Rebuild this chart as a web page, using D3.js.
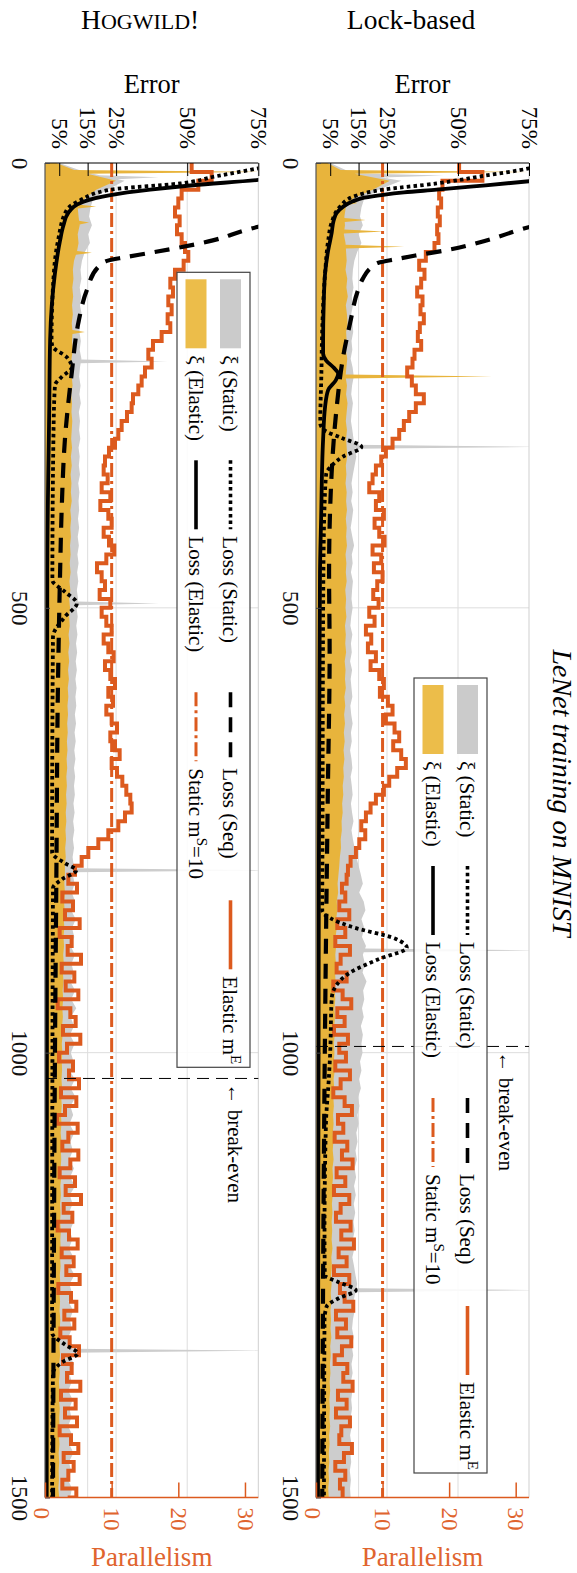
<!DOCTYPE html>
<html>
<head>
<meta charset="utf-8">
<script src="https://cdn.jsdelivr.net/npm/d3@7"></script>
<style>
  body { margin: 0; background: #fff; }
  svg { display: block; }
  svg text { font-family: "Liberation Serif", "Times New Roman", serif; }
</style>
</head>
<body>
<svg id="chart" width="577" height="1573" font-family="Liberation Serif, serif"></svg>
<script>
// ---------------------------------------------------------------
// LeNet training on MNIST: Lock-based vs HOGWILD! runs
// Iterations 0..1500 sampled every 10 iterations.
// ---------------------------------------------------------------
const iterations = d3.range(0, 1501, 10);

// Elastic parallelism m^E (Lock-based)
const lockElasticM = [
  21.5, 25.0, 19.0, 18.5, 18.8, 18.3, 18.6, 18.2, 18.4, 17.8,
  16.5, 15.5, 16.3, 15.8, 15.2, 16.0, 15.7, 16.2, 15.6, 15.3,
  15.8, 14.8, 14.5, 13.7, 14.4, 15.0, 16.2, 15.0, 14.0, 13.2,
  12.5, 11.5, 10.5, 9.8, 9.0, 8.5, 8.0, 9.5, 9.0, 10.2,
  8.8, 9.5, 10.3, 8.5, 9.8, 8.7, 10.0, 9.2, 8.6, 9.4,
  8.0, 8.8, 7.5, 8.3, 7.8, 9.0, 8.2, 9.5, 10.2, 9.6,
  10.8, 11.5, 10.5, 11.8, 12.5, 11.6, 12.8, 13.5, 12.2, 11.0,
  10.2, 9.0, 8.2, 7.5, 6.8, 7.4, 6.5, 6.0, 5.2, 4.8,
  4.6, 3.9, 4.4, 3.5, 5.0, 3.2, 4.4, 2.9, 5.1, 3.7,
  3.1, 4.6, 2.6, 4.0, 5.3, 3.2, 4.3, 2.7, 4.8, 3.5,
  4.5, 2.9, 5.1, 3.7, 2.6, 4.3, 5.4, 3.3, 4.1, 2.8,
  4.7, 3.9, 5.5, 3.1, 4.4, 2.7, 5.0, 3.7, 3.0, 5.2,
  3.8, 5.7, 3.4, 4.6, 2.7, 5.0, 3.6, 4.3, 5.6, 3.0,
  4.5, 3.2, 5.3, 3.9, 2.8, 4.7, 4.1, 5.5, 3.3, 4.6,
  3.0, 5.1, 3.8, 3.5, 5.4, 4.2, 2.9, 4.4, 3.6, 4.0,
  3.7
];

// Elastic parallelism m^E (HOGWILD!)
const hogElasticM = [
  22.0, 25.0, 23.0, 20.5, 20.0, 19.5, 20.2, 19.8, 20.5, 21.0,
  21.5, 20.8, 19.5, 18.8, 19.2, 18.5, 19.0, 18.4, 18.8, 17.5,
  16.2, 15.5, 16.0, 15.0, 14.5, 14.0, 13.2, 13.0, 12.3, 11.5,
  11.0, 10.5, 9.6, 9.0, 8.8, 9.4, 8.5, 9.8, 8.3, 9.5,
  10.0, 8.8, 9.6, 10.4, 9.2, 7.8, 8.5, 9.0, 8.2, 9.8,
  8.5, 9.2, 10.0, 8.8, 9.5, 10.3, 9.0, 9.8, 10.5, 9.5,
  10.2, 9.2, 10.0, 10.8, 9.8, 10.5, 11.2, 10.0, 10.8, 11.6,
  12.2, 12.8, 13.0, 12.0, 11.0, 9.5, 8.0, 6.5, 5.5, 4.5,
  3.5, 4.8, 2.6, 4.2, 3.0, 5.2, 2.2, 4.0, 3.4, 5.4,
  2.5, 4.4, 3.1, 5.0, 1.9, 3.8, 4.6, 2.7, 5.3, 3.3,
  2.1, 4.2, 3.6, 5.1, 2.4, 4.7, 3.0, 1.8, 4.9, 3.5,
  2.6, 5.0, 3.8, 2.2, 4.5, 3.1, 5.4, 2.8, 4.1, 1.9,
  3.6, 4.9, 2.5, 4.3, 3.2, 5.2, 2.0, 3.9, 4.7, 2.9,
  4.4, 2.3, 3.7, 5.1, 2.7, 4.0, 3.3, 5.3, 2.4, 4.6,
  3.0, 4.8, 2.2, 3.9, 5.0, 2.8, 4.3, 3.5, 2.6, 4.7,
  3.4
];

// xi (Static), percent (Lock-based)
const lockStaticXi = [
  5, 12, 30, 22, 17, 16, 15.5, 16.5, 15, 16,
  14.5, 13.5, 13.0, 12.8, 13.2, 12.6, 13.0, 12.4, 12.9, 13.1,
  12.5, 12.8, 12.2, 12.9, 13.3, 12.7, 12.4, 13.0, 12.6, 12.3,
  12.8, 13.2, 13.5, 14.2, 13.6, 13.0, 12.5, 12.9, 12.4, 13.1,
  12.7, 12.2, 12.8, 13.4, 12.6, 12.9, 12.3, 13.0, 12.7, 12.5,
  12.9, 12.4, 12.1, 12.8, 12.3, 12.6, 12.0, 12.7, 12.2, 12.5,
  12.8, 12.1, 12.4, 12.9, 12.3, 12.6, 12.0, 12.5, 12.8, 12.2,
  12.6, 12.9, 12.3, 12.7, 13.2, 12.5, 13.0, 13.6, 14.2, 15.0,
  15.8, 16.5, 15.2, 16.8, 17.4, 16.0, 17.0, 16.2, 17.6, 16.5,
  17.2, 16.4, 17.8, 16.6, 17.0, 16.2, 16.8, 15.8, 16.5, 16.0,
  16.4, 15.5, 16.0, 15.2, 15.8, 14.8, 15.3, 14.6, 15.0, 14.2,
  14.6, 13.9, 14.4, 13.6, 14.1, 13.4, 14.0, 13.3, 13.8, 13.2,
  13.6, 13.0, 13.5, 12.8, 13.4, 13.9, 14.5, 13.8, 13.2, 13.6,
  13.0, 12.7, 13.3, 12.6, 13.1, 12.5, 12.9, 12.3, 12.8, 12.4,
  12.7, 12.2, 12.6, 12.0, 12.5, 12.1, 12.4, 11.9, 12.3, 12.0,
  12.2
];

// xi (Elastic), percent (Lock-based)
const lockElasticXi = [
  4, 10, 26, 20, 13, 10.5, 10, 10.2, 9.8, 10.4,
  10.6, 10.8, 10.4, 11.0, 10.7, 11.2, 10.5, 10.9, 11.1, 10.6,
  10.8, 10.5, 11.0, 10.7, 10.4, 10.9, 10.6, 11.1, 10.8, 10.5,
  10.9, 10.6, 10.8, 11.0, 10.5, 10.7, 10.4, 10.8, 10.6, 10.9,
  10.5, 10.8, 10.6, 10.9, 10.4, 10.7, 10.5, 10.8, 10.3, 10.6,
  10.4, 10.7, 10.2, 10.5, 10.3, 10.6, 10.1, 10.4, 10.2, 10.5,
  10.0, 10.3, 9.9, 10.2, 9.8, 10.1, 9.7, 10.0, 9.6, 9.8,
  9.4, 9.6, 9.2, 9.4, 9.0, 9.1, 8.7, 8.8, 8.4, 8.2,
  7.9, 7.6, 7.8, 7.3, 7.5, 7.1, 7.3, 6.9, 7.1, 6.8,
  7.0, 6.7, 6.9, 6.6, 6.8, 6.5, 6.7, 6.4, 6.6, 6.3,
  6.5, 6.3, 6.6, 6.2, 6.4, 6.1, 6.3, 6.0, 6.2, 5.9,
  6.1, 5.9, 6.2, 5.8, 6.0, 5.7, 5.9, 5.6, 5.8, 5.5,
  5.7, 5.5, 5.8, 5.4, 5.6, 5.3, 5.5, 5.2, 5.4, 5.1,
  5.3, 5.1, 5.4, 5.0, 5.2, 4.9, 5.1, 4.8, 5.0, 4.7,
  4.9, 4.7, 5.0, 4.6, 4.8, 4.5, 4.7, 4.4, 4.6, 4.3,
  4.5
];

// xi (Static), percent (HOGWILD!)
const hogStaticXi = [
  5, 14, 28, 22, 17, 16, 15.5, 16.5, 15.2, 15.8,
  14.0, 13.0, 12.5, 12.8, 12.2, 12.7, 12.3, 12.9, 12.4, 12.1,
  12.6, 12.2, 12.8, 12.3, 12.0, 12.5, 12.1, 12.6, 11.9, 12.3,
  12.0, 12.4, 11.8, 12.2, 11.9, 12.3, 11.7, 12.1, 11.8, 12.0,
  11.6, 12.0, 11.5, 11.9, 11.4, 11.8, 11.3, 11.7, 11.2, 11.6,
  11.1, 11.5, 11.0, 11.4, 10.9, 11.3, 10.8, 11.2, 10.7, 11.1,
  10.7, 11.0, 10.5, 10.9, 10.4, 10.8, 10.3, 10.7, 10.2, 10.6,
  10.2, 10.5, 10.0, 10.4, 9.9, 10.3, 9.8, 10.2, 9.7, 10.1,
  9.8, 10.4, 9.4, 10.6, 9.2, 10.8, 9.5, 10.3, 9.0, 10.5,
  9.3, 10.1, 8.9, 10.6, 9.2, 11.0, 9.0, 10.2, 8.8, 10.4,
  9.1, 10.0, 8.7, 10.5, 9.0, 10.8, 8.9, 9.9, 8.6, 10.3,
  8.9, 9.8, 8.5, 10.2, 8.8, 10.6, 8.7, 9.7, 8.4, 10.1,
  8.8, 9.6, 8.4, 10.0, 8.7, 10.4, 8.6, 9.5, 8.3, 9.9,
  8.7, 9.5, 8.2, 9.8, 8.6, 10.2, 8.5, 9.4, 8.2, 9.7,
  8.6, 9.3, 8.1, 9.7, 8.5, 10.0, 8.4, 9.2, 8.1, 9.5,
  8.8
];

// xi (Elastic), percent (HOGWILD!)
const hogElasticXi = [
  4, 12, 25, 18, 14, 11.5, 11.8, 12.2, 11.5, 11.8,
  11.2, 10.2, 9.8, 10.0, 9.6, 9.9, 9.5, 9.8, 9.4, 9.7,
  9.5, 9.8, 9.3, 9.6, 9.4, 9.7, 9.2, 9.5, 9.3, 9.6,
  9.4, 9.2, 9.5, 9.1, 9.4, 9.0, 9.3, 9.1, 9.4, 8.9,
  9.2, 8.9, 9.1, 8.8, 9.0, 8.7, 9.0, 8.6, 8.9, 8.5,
  8.8, 8.5, 8.7, 8.3, 8.6, 8.2, 8.5, 8.1, 8.4, 8.0,
  8.2, 7.9, 8.1, 7.8, 8.0, 7.7, 7.9, 7.6, 7.8, 7.5,
  7.7, 7.4, 7.6, 7.3, 7.5, 7.2, 7.4, 7.1, 7.3, 7.0,
  7.0, 6.8, 7.0, 6.7, 6.9, 6.6, 6.8, 6.5, 6.7, 6.4,
  6.6, 6.3, 6.5, 6.2, 6.4, 6.1, 6.3, 6.0, 6.2, 5.9,
  6.1, 5.9, 6.0, 5.8, 6.0, 5.7, 5.9, 5.6, 5.8, 5.5,
  5.8, 5.6, 5.7, 5.5, 5.7, 5.4, 5.6, 5.3, 5.5, 5.3,
  5.6, 5.4, 5.5, 5.3, 5.5, 5.2, 5.4, 5.1, 5.3, 5.1,
  5.4, 5.2, 5.3, 5.1, 5.3, 5.0, 5.2, 4.9, 5.1, 4.9,
  5.2, 5.0, 5.1, 4.9, 5.1, 4.8, 5.0, 4.8, 4.9, 4.7,
  5.0
];

// Short bursts of xi: [iteration, percent]
const lockStaticXiSpikes  = [[14, 45], [319, 80], [885, 80], [1267, 80]];
const lockElasticXiSpikes = [[10, 75], [45, 14.6], [64, 17.5], [77, 24], [94, 31], [240, 62]];
const hogStaticXiSpikes   = [[16, 40], [223, 43], [495, 40], [795, 80], [1335, 80]];
const hogElasticXiSpikes  = [[10, 75], [49, 18], [67, 15.5], [101, 16.5], [190, 14]];

// Training loss curves: [iteration, loss %]
const lockLossElastic = [[0,110],[15,90],[20.5,75],[26,56.6],[30,42.5],[33,31],[35.7,23.6],[39,17],[43,13],[49,9.6],[56,7.3],[65,6.2],[79,5.5],[98,4.3],[124,3.2],[160,2.7],[199,2.5],[214,2.5],[222,3.6],[230,6.2],[237,7.8],[244,7.0],[255,4.3],[274,3.2],[311,2.5],[400,1.8],[461,1.4],[600,1.2],[800,1.0],[1000,0.9],[1200,0.8],[1500,0.7]];
const lockLossStatic = [[0,82],[6,75],[15,58],[23,42.5],[30,23.6],[38,13],[49,8.5],[67,5.5],[87,4.3],[124,3.2],[199,2.1],[236,1.9],[292,1.5],[300,2.8],[309,9],[319,16],[330,9.5],[342,5],[349,3.6],[386,3.0],[461,2.6],[600,2.4],[750,2.3],[840,2.2],[858,12],[872,28],[882,32],[895,22],[910,12],[925,7],[940,5.5],[1000,5],[1030,4.5],[1080,3.5],[1200,3.0],[1250,3.1],[1258,8],[1267,14],[1276,8],[1285,3.8],[1300,3.0],[1500,2.8]];
const lockLossSeq = [[55,95],[75,71.8],[87,60],[98,46],[104,35],[108,28.4],[112,22],[117,19.6],[130,16.5],[143,14.8],[180,12],[217,9.6],[274,7.3],[349,5.5],[461,4.6],[550,4.8],[700,4.2],[850,3.6],[1000,3.1],[1200,2.6],[1500,2.2]];

const hogLossElastic = [[0,110],[14,88],[19,75],[25,52],[30,37],[36,23],[43.5,13.5],[56,8.2],[70,6.5],[87,5.3],[124,3.5],[199,1.8],[274,1.5],[461,0.8],[800,0.7],[1500,0.6]];
const hogLossStatic = [[0,85],[6,75],[15,60],[23,47.5],[30,23],[42,12.3],[53,7.6],[87,4.6],[124,3.1],[199,2.3],[206,2.6],[218,7.6],[230,9.4],[240,6],[250,3.5],[300,3.0],[469,2.6],[482,7],[495,11.2],[510,7],[533,2.8],[775,2.5],[787,7],[795,11],[805,6],[815,2.8],[1315,2.5],[1328,7],[1338,11.5],[1348,6],[1360,2.8],[1500,2.5]];
const hogLossSeq = [[58,95],[75,71],[87,59],[101,37],[106,28],[110,21.8],[117,18.7],[143,14.7],[180,11.7],[236,9.4],[311,7],[386,5.9],[461,5.3],[600,4.5],[800,4.0],[1000,3.5],[1250,3.1],[1500,2.8]];

// Static parallelism and break-even iterations
const staticM = 10;
const lockBreakEven = 993;
const hogBreakEven = 1029;

// Axis ticks
const errorTicks = [5, 15, 25, 50, 75];
const iterationTicks = [0, 500, 1000, 1500];
const parallelTicks = [0, 10, 20, 30];

// Legend entries, column by column
const legendColumns = [
  [{ key: 'staticXi', label: ['\u03be (Static)'] }, { key: 'elasticXi', label: ['\u03be (Elastic)'] }],
  [{ key: 'lossStatic', label: ['Loss (Static)'] }, { key: 'lossElastic', label: ['Loss (Elastic)'] }],
  [{ key: 'lossSeq', label: ['Loss (Seq)'] }, { key: 'staticM', label: ['Static m', 'S', '=10'] }],
  [{ key: 'elasticM', label: ['Elastic m', 'E'] }]
];

// ---------------------------------------------------------------
// Layout and styles
// ---------------------------------------------------------------
const svg = d3.select('#chart');
const plotTop = 163, plotBottom = 1497.5;
const orange = '#dc5a1e';
const orangeText = '#e0642e';
const gridColor = '#dddddd';

const styles = {
  staticXi:    { fill: '#cdcdcd', swatch: '#cbcbcb' },
  elasticXi:   { fill: '#e8b43c', swatch: '#ecbd4a' },
  lossStatic:  { stroke: '#000', width: 3.8, dash: '3.5 3.2' },
  lossSeq:     { stroke: '#000', width: 4.2, dash: '15 10' },
  lossElastic: { stroke: '#000', width: 3.8, dash: null },
  staticM:     { stroke: orange, width: 3, dash: '14 4 3 4' },
  elasticM:    { stroke: orange, width: 4, dash: null }
};

const panels = [
  {
    id: 'lock', x0: 316, x1: 529, legend: { top: 678, right: 487 },
    elasticM: lockElasticM, staticXi: lockStaticXi, elasticXi: lockElasticXi,
    staticSpikes: lockStaticXiSpikes, elasticSpikes: lockElasticXiSpikes,
    lossStatic: lockLossStatic, lossSeq: lockLossSeq, lossElastic: lockLossElastic,
    breakEven: lockBreakEven,
    header: t => t.append('tspan').text('Lock-based')
  },
  {
    id: 'hog', x0: 45, x1: 258.3, legend: { top: 272.3, right: 250 },
    elasticM: hogElasticM, staticXi: hogStaticXi, elasticXi: hogElasticXi,
    staticSpikes: hogStaticXiSpikes, elasticSpikes: hogElasticXiSpikes,
    lossStatic: hogLossStatic, lossSeq: hogLossSeq, lossElastic: hogLossElastic,
    breakEven: hogBreakEven,
    header: t => {
      t.append('tspan').text('H');
      t.append('tspan').attr('font-size', 22).text('OGWILD');
      t.append('tspan').text('!');
    }
  }
];

const yScale = d3.scaleLinear().domain([0, 1500]).range([plotTop, plotBottom]);

// merge a regularly sampled series with narrow bursts
function withSpikes(base, spikes, half) {
  const baseAt = it => {
    const i = Math.max(0, Math.min(Math.floor(it / 10), base.length - 2));
    const t = (it - iterations[i]) / 10;
    return base[i] * (1 - t) + base[i + 1] * t;
  };
  const pts = iterations
    .map((it, i) => ({ it, v: base[i] }))
    .filter(p => !spikes.some(([s]) => Math.abs(p.it - s) <= half));
  spikes.forEach(([s, v]) => {
    const a = Math.max(0, s - half), b = Math.min(1500, s + half);
    pts.push({ it: a, v: baseAt(a) }, { it: s, v }, { it: b, v: baseAt(b) });
  });
  return pts.sort((a, b) => a.it - b.it);
}

function styleAxisText(sel, transform, anchor, fill) {
  sel.attr('x', 0).attr('y', 0).attr('dy', '0.34em')
    .attr('transform', transform)
    .attr('text-anchor', anchor)
    .attr('font-size', 23)
    .attr('font-family', 'Liberation Serif, serif')
    .attr('fill', fill);
}

panels.forEach(p => {
  const err = d3.scaleLinear().domain([0, 75]).range([p.x0, p.x1]);
  const par = d3.scaleLinear().domain([0, 32]).range([p.x0, p.x1]);
  const g = svg.append('g').attr('class', 'panel-' + p.id);

  const clipId = 'clip-' + p.id;
  svg.append('clipPath').attr('id', clipId)
    .append('rect')
    .attr('x', p.x0).attr('y', plotTop)
    .attr('width', p.x1 - p.x0).attr('height', plotBottom - plotTop);

  // grid
  const grid = g.append('g');
  grid.selectAll('line.ge').data(errorTicks.filter(d => d < 75)).join('line')
    .attr('x1', d => err(d)).attr('x2', d => err(d))
    .attr('y1', plotTop).attr('y2', plotBottom)
    .attr('stroke', gridColor).attr('stroke-width', 1);
  grid.selectAll('line.gi').data(iterationTicks.filter(d => d > 0 && d < 1500)).join('line')
    .attr('x1', p.x0).attr('x2', p.x1)
    .attr('y1', d => yScale(d)).attr('y2', d => yScale(d))
    .attr('stroke', gridColor).attr('stroke-width', 1);
  g.append('line')
    .attr('x1', p.x1).attr('x2', p.x1).attr('y1', plotTop).attr('y2', plotBottom)
    .attr('stroke', '#cfcfcf').attr('stroke-width', 1);

  const data = g.append('g').attr('clip-path', `url(#${clipId})`);

  // xi fills
  const area = d3.area()
    .y(d => yScale(d.it))
    .x0(err(0))
    .x1(d => err(d.v));
  data.append('path')
    .datum(withSpikes(p.staticXi, p.staticSpikes, 2.2))
    .attr('d', area).attr('fill', styles.staticXi.fill);
  data.append('path')
    .datum(withSpikes(p.elasticXi, p.elasticSpikes, 2.2))
    .attr('d', area).attr('fill', styles.elasticXi.fill);

  // static parallelism
  data.append('line')
    .attr('x1', par(staticM)).attr('x2', par(staticM))
    .attr('y1', plotTop).attr('y2', plotBottom)
    .attr('stroke', styles.staticM.stroke)
    .attr('stroke-width', styles.staticM.width)
    .attr('stroke-dasharray', styles.staticM.dash);

  // elastic parallelism (stepped)
  const stepLine = d3.line()
    .x(d => par(d.v)).y(d => yScale(d.it))
    .curve(d3.curveStepBefore);
  data.append('path')
    .datum(iterations.map((it, i) => ({ it, v: p.elasticM[i] })))
    .attr('d', stepLine)
    .attr('fill', 'none')
    .attr('stroke', styles.elasticM.stroke)
    .attr('stroke-width', styles.elasticM.width)
    .attr('stroke-linejoin', 'miter');

  // loss curves
  const lossLine = d3.line()
    .x(d => err(d[1])).y(d => yScale(d[0]))
    .curve(d3.curveMonotoneY);
  [['lossSeq', p.lossSeq], ['lossStatic', p.lossStatic], ['lossElastic', p.lossElastic]]
    .forEach(([k, series]) => {
      const s = styles[k];
      data.append('path').datum(series)
        .attr('d', lossLine)
        .attr('fill', 'none')
        .attr('stroke', s.stroke)
        .attr('stroke-width', s.width)
        .attr('stroke-dasharray', s.dash);
    });

  // break-even marker
  g.append('line')
    .attr('x1', p.x0).attr('x2', p.x1)
    .attr('y1', yScale(p.breakEven)).attr('y2', yScale(p.breakEven))
    .attr('stroke', '#000').attr('stroke-width', 1)
    .attr('stroke-dasharray', '12 7');
  g.append('text')
    .attr('transform', `translate(${p.x1 - 23},${yScale(p.breakEven) + 5}) rotate(90)`)
    .attr('dy', '0.34em').attr('font-size', 21)
    .text('\u2190 break-even');

  // frame
  g.append('line').attr('x1', p.x0).attr('x2', p.x1).attr('y1', plotTop).attr('y2', plotTop)
    .attr('stroke', '#000').attr('stroke-width', 1.2);
  g.append('line').attr('x1', p.x0).attr('x2', p.x0).attr('y1', plotTop).attr('y2', plotBottom)
    .attr('stroke', '#555').attr('stroke-width', 1.2);
  g.append('line').attr('x1', p.x0).attr('x2', p.x1).attr('y1', plotBottom).attr('y2', plotBottom)
    .attr('stroke', orange).attr('stroke-width', 1.5);

  // error axis (top)
  const errAxis = g.append('g').attr('transform', `translate(0,${plotTop})`)
    .call(d3.axisTop(err).tickValues(errorTicks).tickSize(-13).tickFormat(d => d + '%'));
  errAxis.attr('font-family', null).attr('font-size', null);
  errAxis.select('.domain').remove();
  errAxis.selectAll('line').attr('stroke', '#000').attr('stroke-width', 1);
  styleAxisText(errAxis.selectAll('text'), 'translate(0,-14) rotate(90)', 'end', '#000');

  // iteration axis (left)
  const itAxis = g.append('g').attr('transform', `translate(${p.x0},0)`)
    .call(d3.axisLeft(yScale).tickValues(iterationTicks).tickSize(-5).tickFormat(d3.format('d')));
  itAxis.attr('font-family', null).attr('font-size', null);
  itAxis.select('.domain').remove();
  itAxis.selectAll('line').attr('stroke', '#444');
  styleAxisText(itAxis.selectAll('text'), 'translate(-25,0) rotate(90)', 'middle', '#111');

  // parallelism axis (bottom)
  const parAxis = g.append('g').attr('transform', `translate(0,${plotBottom})`)
    .call(d3.axisBottom(par).tickValues(parallelTicks).tickSize(-15).tickFormat(d3.format('d')));
  parAxis.attr('font-family', null).attr('font-size', null);
  parAxis.select('.domain').remove();
  parAxis.selectAll('line').attr('stroke', orange).attr('stroke-width', 1.5);
  parAxis.selectAll('text').each(function (d) {
    styleAxisText(d3.select(this), `translate(${d === 0 ? -4 : 0},10) rotate(90)`, 'start', orangeText);
  });

  // axis titles and panel header
  const cx = (p.x0 + p.x1) / 2;
  g.append('text').attr('x', cx).attr('y', 93).attr('text-anchor', 'middle')
    .attr('font-size', 26.5).text('Error');
  g.append('text').attr('x', cx).attr('y', 1566).attr('text-anchor', 'middle')
    .attr('font-size', 27).attr('fill', orangeText).text('Parallelism');
  const head = g.append('text').attr('x', cx - 11.5).attr('y', 29)
    .attr('text-anchor', 'middle').attr('font-size', 27.5);
  p.header(head);

  drawLegend(g, p.legend);
});

function drawLegend(g, anchor) {
  const lg = g.append('g');
  const rowX = [anchor.right - 19.5, anchor.right - 54];
  const colStart = [7, 188, 420, 628];
  const swLen = 69, swGap = 7, boxWidth = 73, boxLength = 795;
  lg.append('rect')
    .attr('x', anchor.right - boxWidth).attr('y', anchor.top)
    .attr('width', boxWidth).attr('height', boxLength)
    .attr('fill', '#fff').attr('fill-opacity', 0.88)
    .attr('stroke', '#444').attr('stroke-width', 1.2);
  legendColumns.forEach((col, c) => {
    const pos = anchor.top + colStart[c];
    col.forEach((e, r) => {
      const x = rowX[r];
      const s = styles[e.key];
      if (s.fill) {
        lg.append('rect').attr('x', x - 10.5).attr('y', pos)
          .attr('width', 21).attr('height', swLen).attr('fill', s.swatch);
      } else {
        lg.append('line').attr('x1', x).attr('x2', x)
          .attr('y1', pos).attr('y2', pos + swLen)
          .attr('stroke', s.stroke)
          .attr('stroke-width', Math.min(s.width, 3.6))
          .attr('stroke-dasharray', s.dash);
      }
      const t = lg.append('text')
        .attr('transform', `translate(${x},${pos + swLen + swGap}) rotate(90)`)
        .attr('dy', '0.34em').attr('font-size', 21).attr('text-anchor', 'start');
      t.append('tspan').text(e.label[0]);
      if (e.label.length > 1) {
        t.append('tspan').attr('font-size', 15).attr('dy', -8).text(e.label[1]);
      }
      if (e.label.length > 2) {
        t.append('tspan').attr('dy', 8).text(e.label[2]);
      }
    });
  });
}

// figure title
svg.append('text')
  .attr('transform', 'translate(562,793) rotate(90)')
  .attr('text-anchor', 'middle').attr('dy', '0.33em')
  .attr('font-size', 28).attr('font-style', 'italic')
  .text('LeNet training on MNIST');
</script>
</body>
</html>
